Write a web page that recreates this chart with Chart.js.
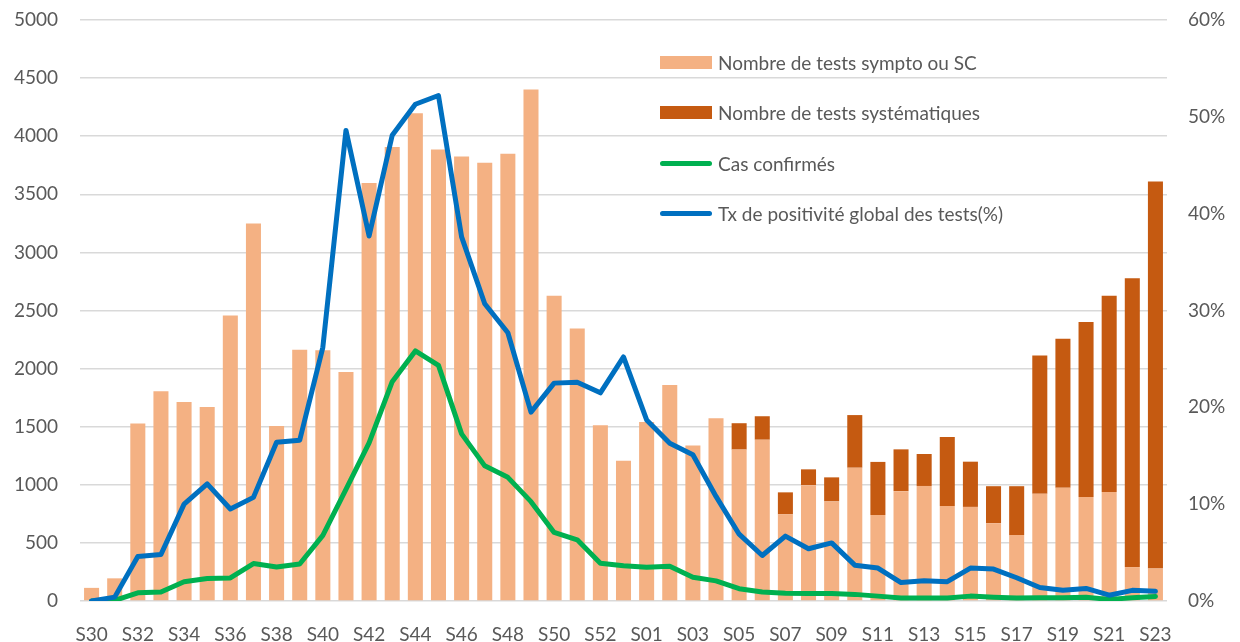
<!DOCTYPE html>
<html>
<head>
<meta charset="utf-8">
<script src="https://cdn.jsdelivr.net/npm/chart.js@4.4.1/dist/chart.umd.min.js"></script>
<style>
  html, body { margin: 0; padding: 0; background: #fff; }
  #wrap { position: relative; width: 1240px; height: 642px; }
  #legend { position: absolute; left: 660px; top: 37px; font-family: Lato, "Open Sans", sans-serif; font-size: 19px; color: #595959; }
  .item { position: relative; height: 50.5px; display: flex; align-items: center; }
  .sw { width: 52px; margin-right: 6px; }
  .bar { height: 13px; }
  .line { height: 5px; border-radius: 3px; }
</style>
</head>
<body>
<div id="wrap">
  <canvas id="c" width="1240" height="642"></canvas>
  <div id="legend"></div>
</div>
<script>
const weeks = ["S30","S31","S32","S33","S34","S35","S36","S37","S38","S39","S40","S41","S42","S43","S44","S45","S46","S47","S48","S49","S50","S51","S52","S53",
  "S01","S02","S03","S04","S05","S06","S07","S08","S09","S10","S11","S12","S13","S14","S15","S16","S17","S18","S19","S20","S21","S22","S23"];
const symptoTests = [113,195,1528,1805,1712,1669,2458,3248,1507,2162,2157,1970,3597,3907,4197,3886,3826,3771,3850,4402,2626,2346,1512,1207,
  1540,1858,1338,1572,1303,1388,746,997,857,1147,740,945,990,818,810,669,567,922,975,895,938,292,280];
const systTests = [0,0,0,0,0,0,0,0,0,0,0,0,0,0,0,0,0,0,0,0,0,0,0,0,
  0,0,0,0,227,202,189,136,207,453,457,360,275,594,389,319,421,1190,1282,1505,1688,2486,3330];
const casConfirmes = [0,5,70,78,166,194,198,322,293,318,565,961,1360,1887,2152,2028,1438,1163,1064,855,590,527,325,304,
  290,300,205,173,106,78,67,64,64,57,42,25,25,25,42,32,25,28,28,32,14,28,39];
const txPositivite = [0,0.4,4.6,4.8,10.0,12.1,9.5,10.7,16.4,16.6,26.2,48.6,37.7,48.1,51.3,52.2,37.6,30.7,27.7,19.5,22.5,22.6,21.5,25.2,
  18.7,16.3,15.1,10.8,6.9,4.7,6.7,5.4,6.0,3.7,3.4,1.9,2.1,2.0,3.4,3.3,2.4,1.4,1.1,1.3,0.6,1.1,1.0];
const leftTicksMax = 5000, rightTicksMax = 60;

const FONT = "Lato, 'Open Sans', sans-serif";
const TXT = "#595959";
const GRID = "#d9d9d9";

const datasets = [
  { type: 'bar', label: 'Nombre de tests sympto ou SC', data: symptoTests, backgroundColor: '#F4B183', stack: 'tests', yAxisID: 'y', order: 2, barPercentage: 0.65, categoryPercentage: 1.0 },
  { type: 'bar', label: 'Nombre de tests systématiques', data: systTests, backgroundColor: '#C55A11', stack: 'tests', yAxisID: 'y', order: 3, barPercentage: 0.65, categoryPercentage: 1.0 },
  { type: 'line', label: 'Cas confirmés', data: casConfirmes, borderColor: '#00B050', backgroundColor: '#00B050', borderWidth: 5, pointRadius: 0, tension: 0, stack: 'cas', yAxisID: 'y', order: 1, borderJoinStyle: 'round', borderCapStyle: 'round' },
  { type: 'line', label: 'Tx de positivité global des tests(%)', data: txPositivite, borderColor: '#0070C0', backgroundColor: '#0070C0', borderWidth: 5, pointRadius: 0, tension: 0, yAxisID: 'y1', order: 0, borderJoinStyle: 'round', borderCapStyle: 'round' }
];

new Chart(document.getElementById('c'), {
  data: { labels: weeks, datasets: datasets },
  options: {
    responsive: false,
    animation: false,
    layout: { padding: { top: 20, left: 0, right: 0, bottom: 0 } },
    plugins: { legend: { display: false }, tooltip: { enabled: false } },
    scales: {
      x: {
        stacked: true,
        grid: { display: false },
        border: { display: false },
        ticks: {
          autoSkip: false, maxRotation: 0, minRotation: 0, color: TXT,
          font: { family: FONT, size: 19 }, padding: 14,
          callback: function(v, i) { return i % 2 === 0 ? weeks[i] : ''; }
        },
        afterFit: function(s) { s.height = 41; }
      },
      y: {
        stacked: true, min: 0, max: leftTicksMax, position: 'left',
        grid: { color: GRID, lineWidth: 1.5, drawTicks: true, tickLength: 22, tickColor: 'rgba(0,0,0,0)' },
        border: { display: false },
        ticks: { stepSize: 500, color: TXT, font: { family: FONT, size: 19 }, padding: 0, callback: v => String(v) },
        afterFit: function(s) { s.width = 80; }
      },
      y1: {
        min: 0, max: rightTicksMax, position: 'right',
        grid: { display: true, drawOnChartArea: false, drawTicks: true, tickLength: 21, tickColor: 'rgba(0,0,0,0)' },
        border: { display: false },
        ticks: { stepSize: 10, color: TXT, font: { family: FONT, size: 19 }, padding: 0, callback: v => v + '%' },
        afterFit: function(s) { s.width = 73; }
      }
    }
  }
});

const leg = document.getElementById('legend');
datasets.forEach(d => {
  const it = document.createElement('div');
  it.className = 'item';
  const sw = document.createElement('div');
  sw.className = 'sw ' + (d.type === 'bar' ? 'bar' : 'line');
  sw.style.background = d.type === 'bar' ? d.backgroundColor : d.borderColor;
  const t = document.createElement('span');
  t.textContent = d.label;
  it.appendChild(sw); it.appendChild(t);
  leg.appendChild(it);
});
</script>
</body>
</html>
